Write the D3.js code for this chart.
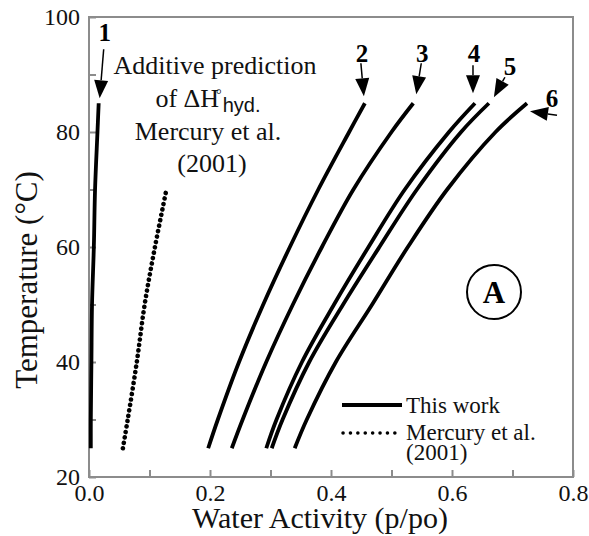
<!DOCTYPE html>
<html>
<head>
<meta charset="utf-8">
<script src="https://cdn.jsdelivr.net/npm/d3@7"></script>
<style>
  body { margin: 0; background: #fff; }
</style>
</head>
<body>
<svg id="chart"></svg>
<script>
// temperatures (°C) at which the curves were read
const temps = [25, 30, 40, 50, 60, 70, 80, 85];

// water activity of the six salts (this work)
const curve1 = [0.003, 0.003, 0.004, 0.005, 0.008, 0.010, 0.014, 0.016];
const curve2 = [0.197, 0.213, 0.248, 0.288, 0.332, 0.379, 0.430, 0.456];
const curve3 = [0.236, 0.254, 0.293, 0.337, 0.385, 0.437, 0.500, 0.536];
const curve4 = [0.293, 0.310, 0.352, 0.405, 0.462, 0.522, 0.595, 0.638];
const curve5 = [0.302, 0.320, 0.364, 0.420, 0.480, 0.542, 0.615, 0.661];
const curve6 = [0.340, 0.360, 0.408, 0.468, 0.527, 0.592, 0.672, 0.724];

// Mercury et al. (2001) additive prediction
const mercuryTemps = [25, 30, 40, 50, 60, 70];
const mercury = [0.056, 0.064, 0.079, 0.092, 0.109, 0.128];

const xTicks = [0, 0.1, 0.2, 0.3, 0.4, 0.5, 0.6, 0.7, 0.8];
const yTicks = [20, 30, 40, 50, 60, 70, 80, 90, 100];

const serif = "'Liberation Serif', 'Times New Roman', Times, 'DejaVu Serif', serif";
const sans = "'Liberation Sans', Arial, sans-serif";

const width = 589, height = 536;
const svg = d3.select("#chart")
  .attr("width", width).attr("height", height)
  .style("font-family", serif);

const x = d3.scaleLinear().domain([0, 0.8]).range([89, 573]);
const y = d3.scaleLinear().domain([20, 100]).range([477, 17]);

const gray = "#8c8c8c";

// axes (ticks point inward)
const xAxis = svg.append("g")
  .attr("transform", `translate(0,${y(20)})`)
  .call(d3.axisBottom(x).tickValues(xTicks).tickSize(-7).tickSizeOuter(0).tickPadding(7)
    .tickFormat((d) => (Math.round(d * 10) % 2 === 0 ? d.toFixed(1) : "")));
const yAxis = svg.append("g")
  .attr("transform", `translate(${x(0)},0)`)
  .call(d3.axisLeft(y).tickValues(yTicks).tickSize(-7).tickSizeOuter(0).tickPadding(9)
    .tickFormat((d) => (d % 20 === 0 ? d : "")));

[xAxis, yAxis].forEach((g) => {
  g.attr("font-family", serif);
  g.select(".domain").remove();
  g.selectAll("line").attr("stroke", gray).attr("stroke-width", 2);
  g.selectAll("text")
    .style("font-family", serif)
    .style("font-size", "24px")
    .attr("fill", "#111");
});

// frame
svg.append("rect")
  .attr("x", x(0)).attr("y", y(100))
  .attr("width", x(0.8) - x(0)).attr("height", y(20) - y(100))
  .attr("fill", "none").attr("stroke", gray).attr("stroke-width", 2);

// axis titles
svg.append("text")
  .attr("x", 320).attr("y", 528)
  .attr("text-anchor", "middle")
  .style("font-size", "30px")
  .attr("fill", "#111")
  .text("Water Activity (p/po)");

svg.append("text")
  .attr("transform", "translate(37,280) rotate(-90)")
  .attr("text-anchor", "middle")
  .style("font-size", "31px")
  .attr("fill", "#111")
  .text("Temperature (°C)");

// curves
const line = d3.line()
  .x((d) => x(d[0]))
  .y((d) => y(d[1]))
  .curve(d3.curveCatmullRom);

const curves = [curve1, curve2, curve3, curve4, curve5, curve6];
curves.forEach((c) => {
  svg.append("path")
    .datum(c.map((v, i) => [v, temps[i]]))
    .attr("d", line)
    .attr("fill", "none")
    .attr("stroke", "#000")
    .attr("stroke-width", 3.8);
});

svg.append("path")
  .datum(mercury.map((v, i) => [v, mercuryTemps[i]]))
  .attr("d", line)
  .attr("fill", "none")
  .attr("stroke", "#000")
  .attr("stroke-width", 4.6)
  .attr("stroke-linecap", "round")
  .attr("stroke-dasharray", "0.1 5.4");

// arrows with numbers, offsets from each curve's top end
const arrows = [
  { label: "1", lx: 6, ly: -62, from: [5, -54], to: [1, -5] },
  { label: "2", lx: -3, ly: -41, from: [-4, -40], to: [-1, -7] },
  { label: "3", lx: 9, ly: -41, from: [8, -40], to: [3, -9] },
  { label: "4", lx: -1, ly: -41, from: [-2, -38], to: [-2, -10] },
  { label: "5", lx: 21, ly: -28, from: [16, -26], to: [5, -6] },
  { label: "6", lx: 25, ly: 4, from: [30, 12], to: [3, 8] }
];

function drawArrow(tail, tip) {
  const dx = tip[0] - tail[0], dy = tip[1] - tail[1];
  const len = Math.hypot(dx, dy);
  const ux = dx / len, uy = dy / len;
  const hl = 18, hw = 7;
  const bx = tip[0] - ux * hl, by = tip[1] - uy * hl;
  svg.append("line")
    .attr("x1", tail[0]).attr("y1", tail[1])
    .attr("x2", bx).attr("y2", by)
    .attr("stroke", "#000").attr("stroke-width", 1.5);
  svg.append("path")
    .attr("d", `M${tip[0]},${tip[1]}L${bx - uy * hw},${by + ux * hw}L${bx + uy * hw},${by - ux * hw}Z`)
    .attr("fill", "#000");
}

arrows.forEach((a, i) => {
  const c = curves[i];
  const px = x(c[c.length - 1]), py = y(temps[temps.length - 1]);
  svg.append("text")
    .attr("x", px + a.lx).attr("y", py + a.ly)
    .attr("text-anchor", "middle")
    .style("font-size", "25px")
    .style("font-weight", "bold")
    .text(a.label);
  drawArrow([px + a.from[0], py + a.from[1]], [px + a.to[0], py + a.to[1]]);
});

// note on the additive prediction
const note = svg.append("text")
  .attr("text-anchor", "middle")
  .attr("fill", "#111")
  .style("font-size", "26px");
note.append("tspan").attr("x", 215).attr("y", 74).text("Additive prediction");
note.append("tspan").attr("x", 208).attr("y", 140).text("Mercury et al.");
note.append("tspan").attr("x", 212).attr("y", 172).text("(2001)");
const l2 = svg.append("text")
  .attr("x", 208).attr("y", 107)
  .attr("text-anchor", "middle")
  .attr("fill", "#111")
  .style("font-size", "26px");
l2.append("tspan").text("of ΔH");
l2.append("tspan").attr("dx", -3).attr("dy", -8).style("font-size", "14px").text("°");
l2.append("tspan").attr("dx", 1).attr("dy", 13)
  .style("font-family", sans)
  .style("font-size", "20px").text("hyd.");

// circled A
svg.append("circle")
  .attr("cx", 494).attr("cy", 292).attr("r", 27)
  .attr("fill", "none").attr("stroke", "#000").attr("stroke-width", 2);
svg.append("text")
  .attr("x", 494).attr("y", 303)
  .attr("text-anchor", "middle")
  .style("font-size", "31px")
  .style("font-weight", "bold")
  .text("A");

// legend
const lg = svg.append("g").attr("fill", "#111");
lg.append("line")
  .attr("x1", 342).attr("x2", 402).attr("y1", 405).attr("y2", 405)
  .attr("stroke", "#000").attr("stroke-width", 3.8);
lg.append("text").attr("x", 406).attr("y", 413).style("font-size", "23px").text("This work");
lg.append("line")
  .attr("x1", 343).attr("x2", 402).attr("y1", 433).attr("y2", 433)
  .attr("stroke", "#000").attr("stroke-width", 3.5)
  .attr("stroke-linecap", "round").attr("stroke-dasharray", "0.1 7.3");
lg.append("text").attr("x", 406).attr("y", 440).style("font-size", "23px").text("Mercury et al.");
lg.append("text").attr("x", 406).attr("y", 460).style("font-size", "23px").text("(2001)");
</script>
</body>
</html>
